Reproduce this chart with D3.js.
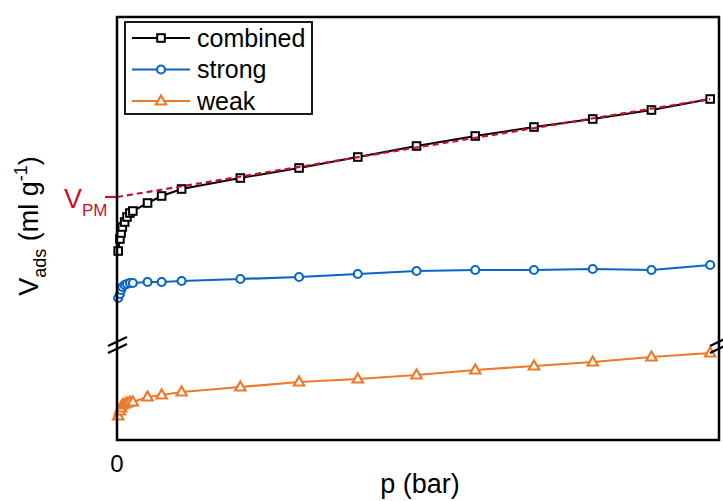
<!DOCTYPE html>
<html>
<head>
<meta charset="utf-8">
<script src="https://cdn.jsdelivr.net/npm/d3@7"></script>
<style>
  body { margin: 0; background: #fff; }
  text { font-family: "Liberation Sans", Arial, sans-serif; }
</style>
</head>
<body>
<div id="chart"></div>
<script>
// pressure values (bar) and adsorbed amounts (arbitrary units, y axis is unlabeled)
const pressure = [0.02, 0.05, 0.07, 0.09, 0.13, 0.17, 0.22, 0.27, 0.52, 0.76,
                  1.1, 2.1, 3.1, 4.1, 5.1, 6.1, 7.1, 8.1, 9.1, 10.1];
const combined = [18.9, 20.1, 20.7, 21.3, 21.8, 22.3, 22.7, 22.9, 23.7, 24.4,
                  25.1, 26.2, 27.2, 28.3, 29.4, 30.4, 31.3, 32.1, 33.0, 34.1];
const strong   = [14.2, 14.6, 15.0, 15.3, 15.5, 15.6, 15.7, 15.7, 15.8, 15.8,
                  15.9, 16.1, 16.3, 16.6, 16.9, 17.0, 17.0, 17.1, 17.0, 17.5];
const weak     = [2.4, 2.9, 3.2, 3.5, 3.6, 3.7, 3.8, 3.8, 4.3, 4.5,
                  4.8, 5.3, 5.8, 6.1, 6.5, 7.0, 7.4, 7.8, 8.3, 8.7];
// linear fit of the high pressure part, extrapolated to p = 0 (V_PM)
const fitP = [0, 10.1];
const fitV = [24.3, 34.1];
const xTicks = [0];

const W = 723, H = 501;
const margin = { top: 17, right: 4, bottom: 61, left: 117 };

const svg = d3.select("#chart").append("svg")
    .attr("width", W)
    .attr("height", H);

const x = d3.scaleLinear().domain([0, 10.25]).range([margin.left, W - margin.right]);
const y = d3.scaleLinear().domain([0, 42.3]).range([H - margin.bottom, margin.top]);

const series = [
    { name: "combined", values: combined, color: "#000000", shape: "square", width: 2 },
    { name: "strong", values: strong, color: "#0a66c2", shape: "circle", width: 2.2 },
    { name: "weak", values: weak, color: "#ec7a2c", shape: "triangle", width: 2.2 }
];

function marker(g, s, cx, cy) {
    if (s.shape === "square") {
        g.append("rect")
            .attr("x", cx - 3.8).attr("y", cy - 3.8)
            .attr("width", 7.6).attr("height", 7.6)
            .attr("fill", "#fff").attr("stroke", s.color).attr("stroke-width", 2);
    } else if (s.shape === "circle") {
        g.append("circle")
            .attr("cx", cx).attr("cy", cy).attr("r", 4)
            .attr("fill", "#fff").attr("stroke", s.color).attr("stroke-width", 2.2);
    } else {
        g.append("path")
            .attr("d", d3.symbol(d3.symbolTriangle).size(46)())
            .attr("transform", "translate(" + cx + "," + (cy + 0.5) + ")")
            .attr("fill", "#fff").attr("stroke", s.color).attr("stroke-width", 2.2);
    }
}

const line = d3.line()
    .x(function (d) { return x(d[0]); })
    .y(function (d) { return y(d[1]); });

// series lines and markers
series.forEach(function (s) {
    const pts = pressure.map(function (p, i) { return [p, s.values[i]]; });
    svg.append("path")
        .datum(pts)
        .attr("d", line)
        .attr("fill", "none")
        .attr("stroke", s.color)
        .attr("stroke-width", s.width);
    const g = svg.append("g");
    pts.forEach(function (d) { marker(g, s, x(d[0]), y(d[1])); });
});

// dashed fit line and V_PM mark
const red = "#c8102e";
svg.append("path")
    .datum(fitP.map(function (p, i) { return [p, fitV[i]]; }))
    .attr("d", line)
    .attr("fill", "none")
    .attr("stroke", red)
    .attr("stroke-width", 2.2)
    .attr("stroke-dasharray", "6,4");

svg.append("line")
    .attr("x1", x(0) - 12).attr("x2", x(0))
    .attr("y1", y(fitV[0])).attr("y2", y(fitV[0]))
    .attr("stroke", red).attr("stroke-width", 2.2);

const vpm = svg.append("text")
    .attr("x", 64).attr("y", y(fitV[0]) + 11)
    .attr("fill", red)
    .style("font-size", "27px");
vpm.append("tspan").text("V");
vpm.append("tspan").attr("dy", 8).style("font-size", "17px").text("PM");

// frame
svg.append("rect")
    .attr("x", x(0)).attr("y", y(42.3))
    .attr("width", x(10.25) - x(0))
    .attr("height", y(0) - y(42.3))
    .attr("fill", "none")
    .attr("stroke", "#000")
    .attr("stroke-width", 2.5);

// axis break marks
const breakV = 9.8;
[x(0), x(10.25)].forEach(function (bx) {
    [0, 7].forEach(function (off) {
        svg.append("line")
            .attr("x1", bx - 9).attr("x2", bx + 10)
            .attr("y1", y(breakV) + 4 + off).attr("y2", y(breakV) - 5 + off)
            .attr("stroke", "#000").attr("stroke-width", 2.2);
    });
});

// x tick label and axis titles
svg.selectAll(".xtick")
    .data(xTicks)
    .enter().append("text")
    .attr("class", "xtick")
    .attr("x", function (d) { return x(d); })
    .attr("y", 472)
    .attr("text-anchor", "middle")
    .style("font-size", "24px")
    .text(function (d) { return d; });

svg.append("text")
    .attr("x", 420).attr("y", 493)
    .attr("text-anchor", "middle")
    .style("font-size", "27px")
    .text("p (bar)");

const yl = svg.append("text")
    .attr("transform", "translate(38,226) rotate(-90)")
    .attr("text-anchor", "middle")
    .style("font-size", "27px");
yl.append("tspan").text("V");
yl.append("tspan").attr("dy", 8).style("font-size", "18px").text("ads");
yl.append("tspan").attr("dy", -8).text(" (ml g");
yl.append("tspan").attr("dy", -11).style("font-size", "18px").text("-1");
yl.append("tspan").attr("dy", 11).text(")");

// legend
const lg = svg.append("g");
lg.append("rect")
    .attr("x", 125).attr("y", 22)
    .attr("width", 187).attr("height", 92)
    .attr("fill", "#fff")
    .attr("stroke", "#000")
    .attr("stroke-width", 1.8);
series.forEach(function (s, i) {
    const ly = 38 + i * 31.5;
    lg.append("line")
        .attr("x1", 132).attr("x2", 190)
        .attr("y1", ly).attr("y2", ly)
        .attr("stroke", s.color).attr("stroke-width", s.width);
    marker(lg, s, 161, ly);
    lg.append("text")
        .attr("x", 197).attr("y", ly + 8.5)
        .style("font-size", "25px")
        .text(s.name);
});
</script>
</body>
</html>
